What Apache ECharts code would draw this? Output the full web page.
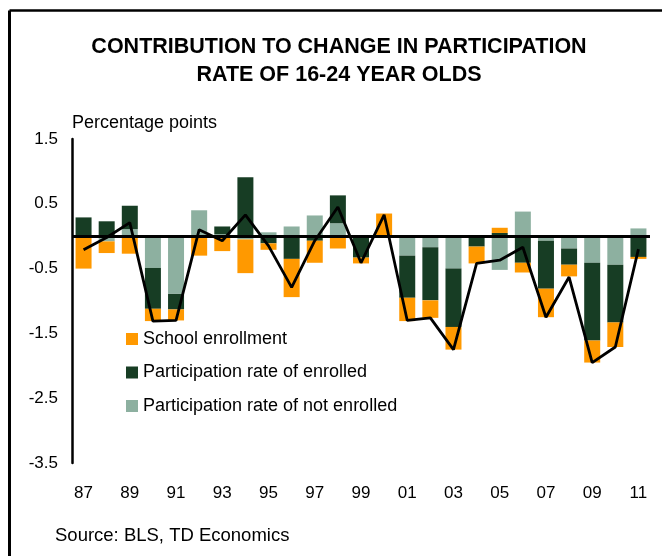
<!DOCTYPE html>
<html>
<head>
<meta charset="utf-8">
<script src="https://cdn.jsdelivr.net/npm/echarts@6/dist/echarts.min.js"></script>
<style>
  html, body { margin: 0; padding: 0; background: #fff; }
  #chart { width: 662px; height: 556px; }
</style>
</head>
<body>
<div id="chart"></div>
<script>
// years 1987..2011, shown as two-digit labels
var years = ['87','88','89','90','91','92','93','94','95','96','97','98','99',
             '00','01','02','03','04','05','06','07','08','09','10','11'];

// contributions, percentage points
var notEnrolled = [0, -0.08, 0.11, -0.49, -0.89, 0.40, 0.03, -0.05, 0.06, 0.15, 0.32, 0.20, 0,
                   0, -0.30, -0.17, -0.50, 0, -0.52, 0.38, -0.07, -0.19, -0.41, -0.44, 0.12];
var enrolled = [0.29, 0.23, 0.36, -0.63, -0.24, 0, 0.12, 0.91, -0.11, -0.35, -0.07, 0.43, -0.33,
                -0.02, -0.65, -0.82, -0.90, -0.16, 0.05, -0.41, -0.74, -0.25, -1.20, -0.89, -0.32];
var school = [-0.50, -0.18, -0.27, -0.19, -0.17, -0.30, -0.23, -0.52, -0.10, -0.59, -0.34, -0.19, -0.09,
              0.35, -0.36, -0.27, -0.35, -0.26, 0.08, -0.15, -0.44, -0.18, -0.34, -0.38, -0.03];
// total change (black line)
var total = [-0.21, -0.02, 0.21, -1.31, -1.30, 0.10, -0.07, 0.33, -0.15, -0.79, -0.07, 0.45, -0.41,
             0.33, -1.30, -1.26, -1.75, -0.42, -0.37, -0.17, -1.25, -0.63, -1.95, -1.71, -0.20];

var yTicks = { min: -3.5, max: 1.5, interval: 1 };

var FONT = '"Liberation Sans", Arial, sans-serif';
var ORANGE = '#ff9900', DARK = '#173d24', LIGHT = '#8db0a0';

var option = {
    backgroundColor: '#fff',
    animation: false,
    textStyle: { fontFamily: FONT },
    title: {
        text: 'CONTRIBUTION TO CHANGE IN PARTICIPATION\nRATE OF 16-24 YEAR OLDS',
        left: 334,
        top: 28,
        textAlign: 'center',
        textStyle: {
            fontFamily: FONT,
            fontSize: 21.5,
            fontWeight: 'bold',
            lineHeight: 28,
            color: '#000'
        }
    },
    legend: {
        orient: 'vertical',
        left: 121,
        top: 325,
        itemWidth: 12,
        itemHeight: 12,
        itemGap: 15.5,
        icon: 'rect',
        data: ['School enrollment', 'Participation rate of enrolled', 'Participation rate of not enrolled'],
        textStyle: { fontFamily: FONT, fontSize: 18, color: '#000' }
    },
    grid: { left: 72, right: 12, top: 139, bottom: 93 },
    xAxis: {
        type: 'category',
        data: years,
        axisLine: { show: false },
        axisTick: { show: false },
        axisLabel: { interval: 1, margin: 22, fontSize: 17, color: '#000', fontFamily: FONT }
    },
    yAxis: {
        type: 'value',
        min: yTicks.min,
        max: yTicks.max,
        interval: yTicks.interval,
        axisLine: { show: true, lineStyle: { color: '#000', width: 2.5 } },
        axisTick: { show: false },
        splitLine: { show: false },
        axisLabel: {
            margin: 14, fontSize: 17, color: '#000', fontFamily: FONT,
            formatter: function (v) { return v.toFixed(1); }
        }
    },
    graphic: [
        { type: 'text', left: 72, top: 114,
          style: { text: 'Percentage points', font: '18px ' + FONT, fill: '#000' } },
        { type: 'text', left: 55, top: 526,
          style: { text: 'Source: BLS, TD Economics', font: '18.5px ' + FONT, fill: '#000' } },
        { type: 'line', shape: { x1: 9.5, y1: 10.5, x2: 662, y2: 10.5 },
          style: { stroke: '#000', lineWidth: 2.5 } },
        { type: 'line', shape: { x1: 9.5, y1: 10.5, x2: 9.5, y2: 556 },
          style: { stroke: '#000', lineWidth: 3 } }
    ],
    series: [
        {
            name: 'Participation rate of not enrolled',
            type: 'bar', stack: 'c', barWidth: 16,
            itemStyle: { color: LIGHT },
            data: notEnrolled
        },
        {
            name: 'Participation rate of enrolled',
            type: 'bar', stack: 'c', barWidth: 16,
            itemStyle: { color: DARK },
            data: enrolled
        },
        {
            name: 'School enrollment',
            type: 'bar', stack: 'c', barWidth: 16,
            itemStyle: { color: ORANGE },
            data: school
        },
        {
            name: 'Total',
            type: 'line',
            data: total,
            symbol: 'none',
            z: 5,
            lineStyle: { color: '#000', width: 2.8 },
            markLine: {
                silent: true,
                symbol: 'none',
                label: { show: false },
                lineStyle: { color: '#000', width: 3, type: 'solid' },
                data: [{ yAxis: 0 }]
            }
        }
    ]
};

var myChart = echarts.init(document.getElementById('chart'));
myChart.setOption(option);
</script>
</body>
</html>
